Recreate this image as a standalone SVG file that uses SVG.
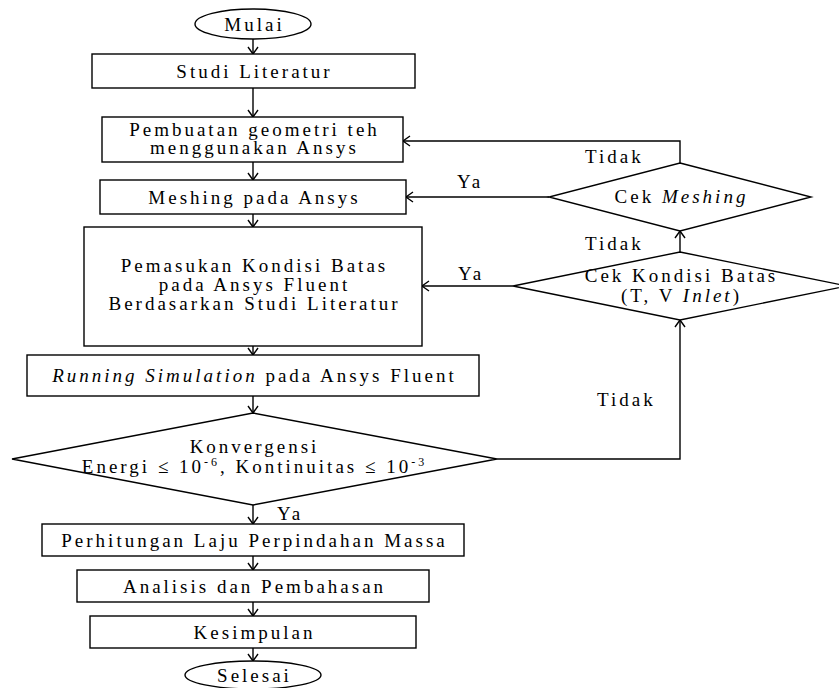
<svg xmlns="http://www.w3.org/2000/svg" width="839" height="688" viewBox="0 0 839 688">
<defs>
<style>
.shape{fill:#fff;stroke:#000;stroke-width:1.4}
.conn path{fill:none;stroke:#000;stroke-width:1.4;marker-end:url(#arr)}
text{font-family:"Liberation Serif","Times New Roman",serif;font-size:19px;letter-spacing:3px;fill:#000}
.c{text-anchor:middle}
.i{font-style:italic}
.sup{font-size:12px}
</style>
<marker id="arr" markerWidth="14" markerHeight="12" viewBox="0 0 14 12" refX="8" refY="6" orient="auto" markerUnits="userSpaceOnUse">
<path d="M1,1 L8,6 L1,11" fill="none" stroke="#000" stroke-width="1.4"/>
</marker>
</defs>
<rect width="839" height="688" fill="#fff"/>
<g class="conn" id="connectors">
<path d="M253,39 V54"/>
<path d="M253,88 V117"/>
<path d="M253,162 V180"/>
<path d="M253,214 V227"/>
<path d="M253,346 V355"/>
<path d="M253,396 V413"/>
<path d="M253,505 V524"/>
<path d="M253,556 V570"/>
<path d="M253,602 V616"/>
<path d="M253,648 V661"/>
<path d="M680,163 V141 H403"/>
<path d="M549,197 H406"/>
<path d="M680,252 V231"/>
<path d="M513,286 H422"/>
<path d="M497,459 H680 V320"/>
<text x="585" y="163">Tidak</text>
<text x="457" y="188">Ya</text>
<text x="585" y="250">Tidak</text>
<text x="458" y="280">Ya</text>
<text x="597" y="406">Tidak</text>
<text x="277" y="520">Ya</text>
</g>
<g id="mulai">
<ellipse class="shape" cx="253" cy="24" rx="58" ry="15"/>
<text class="c" x="254.5" y="30.5">Mulai</text>
</g>
<g id="studi">
<rect class="shape" x="92" y="54" width="323" height="34"/>
<text class="c" x="254.5" y="77.5">Studi Literatur</text>
</g>
<g id="geometri">
<rect class="shape" x="102" y="117" width="301" height="45"/>
<text class="c" x="254.5" y="136">Pembuatan geometri teh</text>
<text class="c" x="254.5" y="154">menggunakan Ansys</text>
</g>
<g id="meshing">
<rect class="shape" x="100" y="180" width="306" height="34"/>
<text class="c" x="254.5" y="203.5">Meshing pada Ansys</text>
</g>
<g id="kondisi">
<rect class="shape" x="84" y="227" width="338" height="119"/>
<text class="c" x="254.5" y="272">Pemasukan Kondisi Batas</text>
<text class="c" x="254.5" y="291">pada Ansys Fluent</text>
<text class="c" x="254.5" y="310">Berdasarkan Studi Literatur</text>
</g>
<g id="running">
<rect class="shape" x="27" y="355" width="452" height="41"/>
<text class="c" x="254.5" y="382"><tspan class="i">Running Simulation</tspan> pada Ansys Fluent</text>
</g>
<g id="konvergensi">
<polygon class="shape" points="253,413 497,459 253,505 12,459"/>
<text class="c" x="254.5" y="453">Konvergensi</text>
<text class="c" x="254.5" y="473">Energi ≤ 10<tspan class="sup" dy="-7">-6</tspan><tspan dy="7">, Kontinuitas ≤ 10</tspan><tspan class="sup" dy="-7">-3</tspan></text>
</g>
<g id="cekmeshing">
<polygon class="shape" points="680,163 811,197 680,231 549,197"/>
<text class="c" x="681.5" y="202.5">Cek <tspan class="i">Meshing</tspan></text>
</g>
<g id="cekkondisi">
<polygon class="shape" points="680,252 847,286 680,320 513,286"/>
<text class="c" x="681.5" y="282">Cek Kondisi Batas</text>
<text class="c" x="681.5" y="302">(T, V <tspan class="i">Inlet</tspan>)</text>
</g>
<g id="perhitungan">
<rect class="shape" x="42" y="524" width="422" height="32"/>
<text class="c" x="254.5" y="546.5">Perhitungan Laju Perpindahan Massa</text>
</g>
<g id="analisis">
<rect class="shape" x="77" y="570" width="352" height="32"/>
<text class="c" x="254.5" y="592.5">Analisis dan Pembahasan</text>
</g>
<g id="kesimpulan">
<rect class="shape" x="90" y="616" width="326" height="32"/>
<text class="c" x="254.5" y="638.5">Kesimpulan</text>
</g>
<g id="selesai">
<ellipse class="shape" cx="253" cy="675" rx="68" ry="14"/>
<text class="c" x="254.5" y="682">Selesai</text>
</g>
</svg>
